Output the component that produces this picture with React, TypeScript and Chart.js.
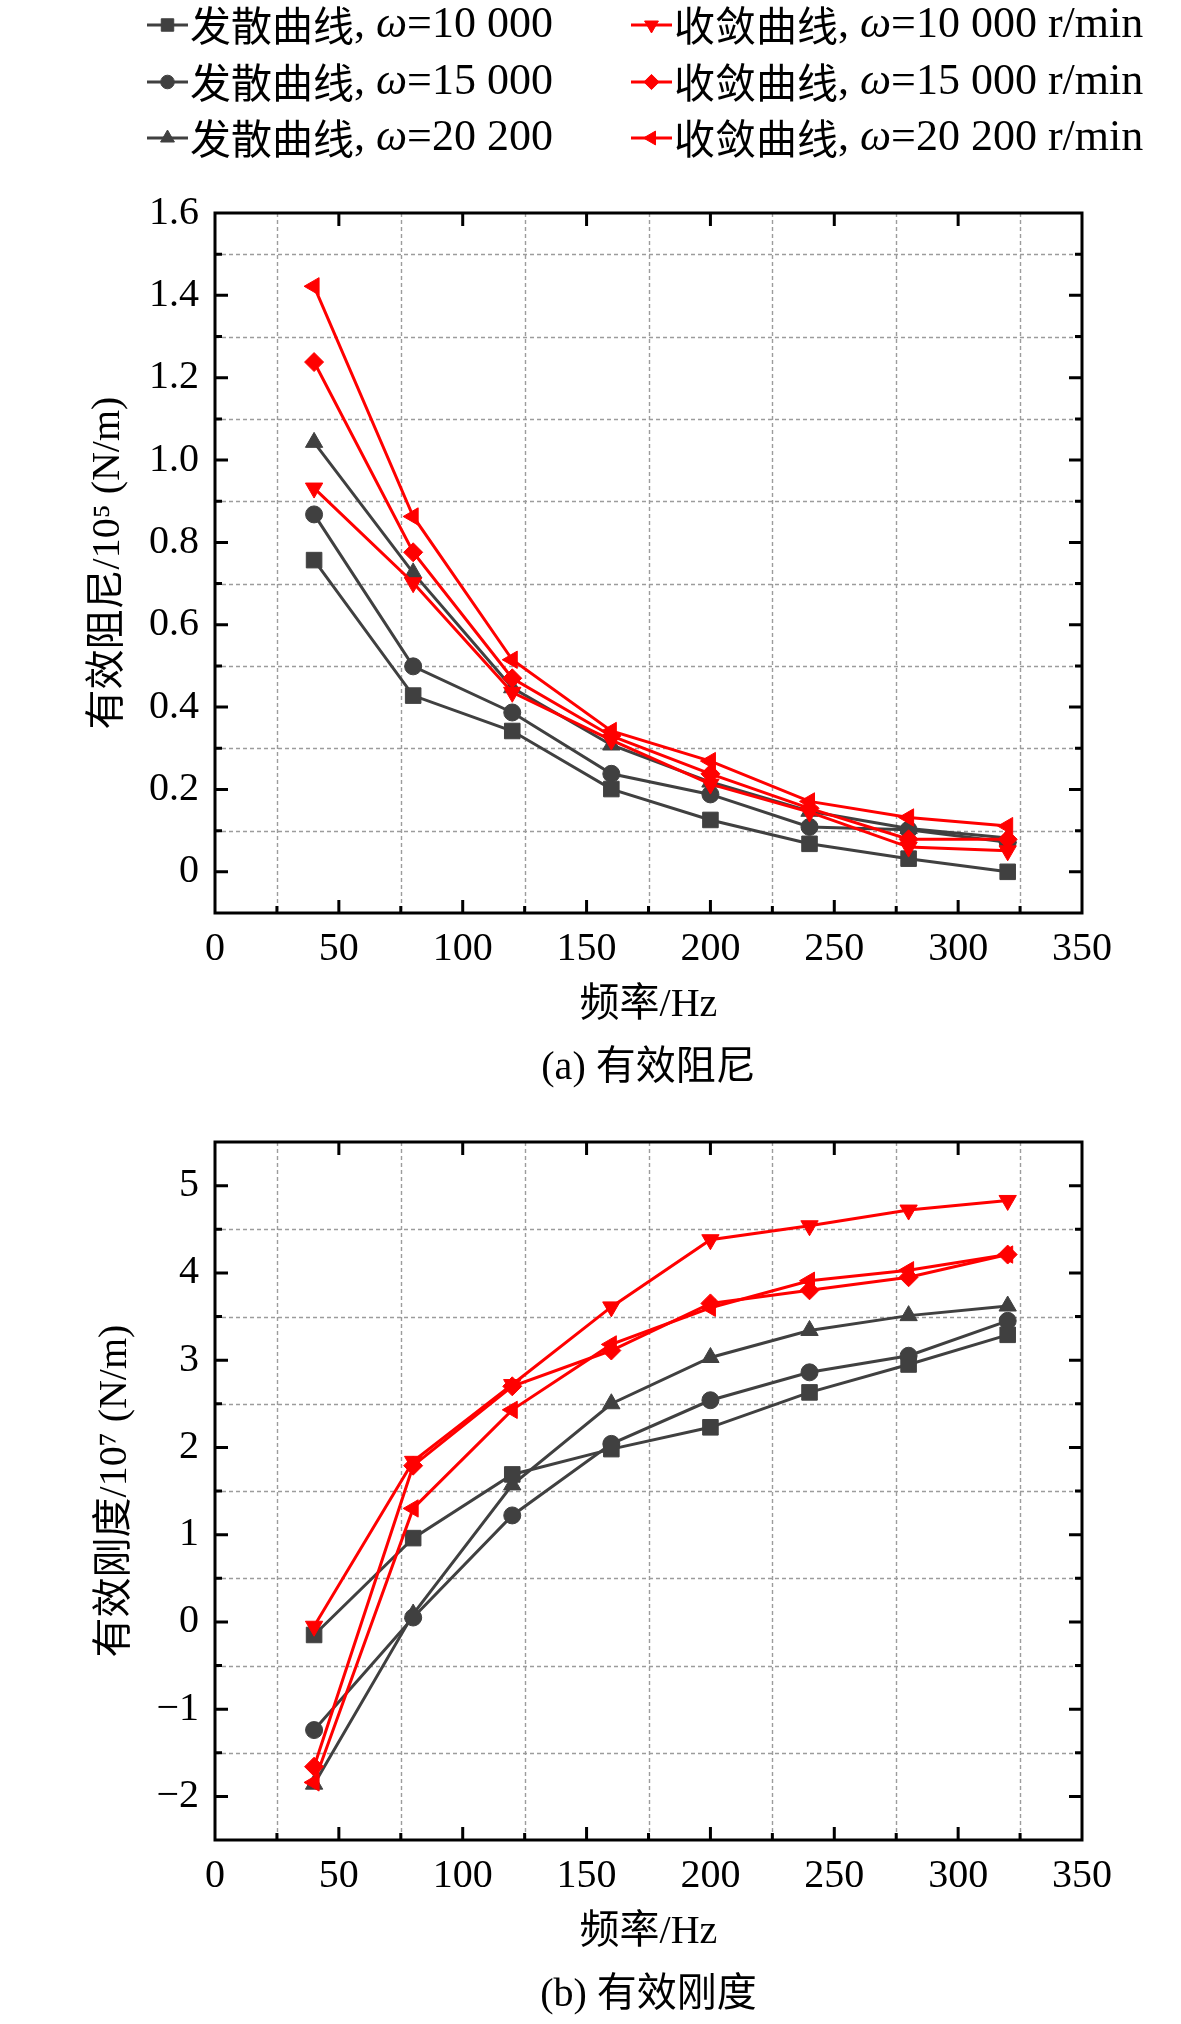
import React, { useEffect, useRef } from 'react';
import { Chart, registerables } from 'chart.js';
import { drawPoint } from 'chart.js/helpers';

Chart.register(...registerables);

if (typeof document !== 'undefined') {
  document.body.style.margin = '0';
  document.body.style.background = '#ffffff';
}

// ---------------- data ----------------
const FREQ = [40, 80, 120, 160, 200, 240, 280, 320];

const SERIES_LABELS = [
  '发散曲线, ω=10 000',
  '发散曲线, ω=15 000',
  '发散曲线, ω=20 200',
  '收敛曲线, ω=10 000 r/min',
  '收敛曲线, ω=15 000 r/min',
  '收敛曲线, ω=20 200 r/min',
];

// (a) effective damping, 10^5 N/m
const DAMP_D10 = [0.757, 0.428, 0.342, 0.201, 0.126, 0.068, 0.032, 0.0];
const DAMP_D15 = [0.868, 0.499, 0.387, 0.238, 0.188, 0.109, 0.102, 0.072];
const DAMP_D20 = [1.043, 0.726, 0.447, 0.308, 0.218, 0.147, 0.105, 0.082];
const DAMP_C10 = [0.932, 0.702, 0.436, 0.32, 0.213, 0.145, 0.06, 0.051];
const DAMP_C15 = [1.238, 0.776, 0.47, 0.33, 0.238, 0.154, 0.079, 0.079];
const DAMP_C20 = [1.422, 0.863, 0.515, 0.342, 0.269, 0.171, 0.132, 0.111];

// (b) effective stiffness, 10^7 N/m
const STIFF_D10 = [-0.15, 0.96, 1.69, 1.98, 2.23, 2.63, 2.95, 3.29];
const STIFF_D15 = [-1.24, 0.05, 1.22, 2.04, 2.54, 2.86, 3.05, 3.45];
const STIFF_D20 = [-1.86, 0.09, 1.57, 2.5, 3.03, 3.34, 3.51, 3.62];
const STIFF_C10 = [-0.05, 1.84, 2.72, 3.61, 4.38, 4.54, 4.72, 4.83];
const STIFF_C15 = [-1.66, 1.79, 2.7, 3.11, 3.65, 3.8, 3.95, 4.21];
const STIFF_C20 = [-1.84, 1.3, 2.43, 3.18, 3.6, 3.91, 4.03, 4.21];

// tick positions (major ticks get labels, minor ticks carry the dashed grid)
const X_TICKS = [0, 25, 50, 75, 100, 125, 150, 175, 200, 225, 250, 275, 300, 325, 350];
const Y_TICKS_A = [-0.1, 0, 0.1, 0.2, 0.3, 0.4, 0.5, 0.6, 0.7, 0.8, 0.9, 1.0, 1.1, 1.2, 1.3, 1.4, 1.5, 1.6];
const Y_TICKS_B = [-2.5, -2, -1.5, -1, -0.5, 0, 0.5, 1, 1.5, 2, 2.5, 3, 3.5, 4, 4.5, 5, 5.5];

const X_TITLE = '频率/Hz';
const Y_TITLE_A = '有效阻尼/10⁵ (N/m)';
const Y_TITLE_B = '有效刚度/10⁷ (N/m)';
const CAPTION_A = '(a) 有效阻尼';
const CAPTION_B = '(b) 有效刚度';

// ---------------- styles ----------------
const GRAY = '#404040';
const RED = '#ff0000';
const GRID = '#9c9c9c';
const FAMILY = '"Liberation Serif", "Noto Sans CJK SC", serif';
const CJK_FAMILY = '"Noto Sans CJK SC", "Liberation Serif", serif';

const STYLES = [
  { color: GRAY, pointStyle: 'rect', radius: 11, rotation: 0, order: 1 },
  { color: GRAY, pointStyle: 'circle', radius: 8.5, rotation: 0, order: 1 },
  { color: GRAY, pointStyle: 'triangle', radius: 10, rotation: 0, order: 1 },
  { color: RED, pointStyle: 'triangle', radius: 10, rotation: 180, order: 0 },
  { color: RED, pointStyle: 'rectRot', radius: 9.5, rotation: 0, order: 0 },
  { color: RED, pointStyle: 'triangle', radius: 10, rotation: 270, order: 0 },
];

const LEGEND_LAYOUT = { colX: [147, 631], rowY: [25, 82, 138], lineLen: 41 };

Chart.defaults.font.family = FAMILY;
Chart.defaults.color = '#000000';

function makeDatasets(series: number[][]) {
  return series.map((vals, i) => {
    const s = STYLES[i];
    return {
      label: SERIES_LABELS[i],
      data: FREQ.map((f, j) => ({ x: f, y: vals[j] })),
      borderColor: s.color,
      backgroundColor: s.color,
      pointBackgroundColor: s.color,
      pointBorderColor: s.color,
      pointBorderWidth: 1,
      pointStyle: s.pointStyle,
      pointRadius: s.radius,
      pointHoverRadius: s.radius,
      pointRotation: s.rotation,
      borderWidth: 3,
      tension: 0,
      fill: false,
      order: s.order,
    };
  });
}

// Origin-style frame: dashed grid on minor ticks, inward ticks on all sides
const framePlugin = {
  id: 'originFrame',
  beforeDatasetsDraw(chart: any) {
    const { ctx, chartArea: a, scales } = chart;
    const xs = scales.x, ys = scales.y;
    ctx.save();
    ctx.strokeStyle = GRID;
    ctx.lineWidth = 1.4;
    ctx.setLineDash([4, 3]);
    xs.ticks.forEach((t: any) => {
      if (t.label) return;
      const px = Math.round(xs.getPixelForValue(t.value)) + 0.5;
      if (px <= a.left + 2 || px >= a.right - 2) return;
      ctx.beginPath();
      ctx.moveTo(px, a.top);
      ctx.lineTo(px, a.bottom);
      ctx.stroke();
    });
    ys.ticks.forEach((t: any) => {
      if (t.label) return;
      const py = Math.round(ys.getPixelForValue(t.value)) + 0.5;
      if (py <= a.top + 2 || py >= a.bottom - 2) return;
      ctx.beginPath();
      ctx.moveTo(a.left, py);
      ctx.lineTo(a.right, py);
      ctx.stroke();
    });
    ctx.restore();
  },
  afterDatasetsDraw(chart: any) {
    const { ctx, chartArea: a, scales } = chart;
    const xs = scales.x, ys = scales.y;
    ctx.save();
    ctx.setLineDash([]);
    ctx.strokeStyle = '#000000';
    ctx.lineWidth = 3;
    ctx.beginPath();
    xs.ticks.forEach((t: any) => {
      const px = xs.getPixelForValue(t.value);
      if (px <= a.left + 2 || px >= a.right - 2) return;
      const len = t.label ? 13 : 7;
      ctx.moveTo(px, a.bottom);
      ctx.lineTo(px, a.bottom - len);
      if (t.label) {
        ctx.moveTo(px, a.top);
        ctx.lineTo(px, a.top + len);
      }
    });
    ys.ticks.forEach((t: any) => {
      const py = ys.getPixelForValue(t.value);
      if (py <= a.top + 2 || py >= a.bottom - 2) return;
      const len = t.label ? 13 : 7;
      ctx.moveTo(a.left, py);
      ctx.lineTo(a.left + len, py);
      ctx.moveTo(a.right, py);
      ctx.lineTo(a.right - len, py);
    });
    ctx.stroke();
    ctx.strokeRect(a.left, a.top, a.right - a.left, a.bottom - a.top);
    ctx.restore();
  },
};

function isCJK(ch: string) {
  return /[\u3000-\u9fff\uff00-\uffef]/.test(ch);
}

const legendPlugin = {
  id: 'twoColumnLegend',
  afterDraw(chart: any) {
    const ctx = chart.ctx;
    const { colX, rowY, lineLen } = LEGEND_LAYOUT;
    chart.data.datasets.forEach((ds: any, i: number) => {
      const col = Math.floor(i / 3);
      const row = i % 3;
      const x0 = colX[col];
      const y = rowY[row];
      ctx.save();
      ctx.strokeStyle = ds.borderColor;
      ctx.lineWidth = 3;
      ctx.beginPath();
      ctx.moveTo(x0, y);
      ctx.lineTo(x0 + lineLen, y);
      ctx.stroke();
      ctx.fillStyle = ds.pointBackgroundColor;
      ctx.strokeStyle = ds.pointBorderColor;
      ctx.lineWidth = 1;
      drawPoint(
        ctx,
        { pointStyle: ds.pointStyle, radius: ds.pointRadius * 0.8, rotation: ds.pointRotation, borderWidth: 1 } as any,
        x0 + lineLen / 2,
        y
      );
      // text, split into runs (CJK / italic omega / latin)
      ctx.fillStyle = '#000000';
      ctx.textBaseline = 'middle';
      ctx.textAlign = 'left';
      let tx = x0 + lineLen + 2;
      const text: string = ds.label;
      let run = '';
      let runType = '';
      const flush = () => {
        if (!run) return;
        if (runType === 'cjk') ctx.font = `41px ${CJK_FAMILY}`;
        else if (runType === 'omega') ctx.font = `italic 44px ${FAMILY}`;
        else ctx.font = `44px ${FAMILY}`;
        ctx.fillText(run, tx, y);
        tx += ctx.measureText(run).width;
        run = '';
      };
      for (const ch of text) {
        const type = isCJK(ch) ? 'cjk' : ch === 'ω' ? 'omega' : 'latin';
        if (type !== runType) {
          flush();
          runType = type;
        }
        run += ch;
      }
      flush();
      ctx.restore();
    });
  },
};

const FONT40 = { family: FAMILY, size: 40 };

function makeConfig(opts: {
  series: number[][];
  yMin: number;
  yMax: number;
  yTicks: number[];
  yLabel: (v: number) => string;
  yTitle: string;
  yTitlePad: number;
  caption: string;
  padTop: number;
  padBottom: number;
  legend: boolean;
}): any {
  return {
    type: 'line',
    data: { datasets: makeDatasets(opts.series) },
    plugins: opts.legend ? [framePlugin, legendPlugin] : [framePlugin],
    options: {
      responsive: false,
      animation: false,
      devicePixelRatio: 1,
      layout: { padding: { top: opts.padTop, right: 99, bottom: opts.padBottom, left: 0 } },
      plugins: {
        legend: { display: false },
        tooltip: { enabled: false },
        title: {
          display: true,
          text: opts.caption,
          position: 'bottom',
          fullSize: false,
          color: '#000000',
          font: { ...FONT40, weight: 'normal' },
          padding: { top: 0, bottom: 0 },
        },
      },
      scales: {
        x: {
          type: 'linear',
          min: 0,
          max: 350,
          afterBuildTicks: (s: any) => {
            s.ticks = X_TICKS.map((v) => ({ value: v }));
          },
          afterFit: (s: any) => {
            s.height = 131;
          },
          grid: { display: false, drawTicks: false },
          border: { display: false },
          ticks: {
            autoSkip: false,
            maxRotation: 0,
            minRotation: 0,
            padding: 12,
            color: '#000000',
            font: FONT40,
            callback: (v: number) => (Math.round(v) % 50 === 0 ? String(Math.round(v)) : ''),
          },
          title: {
            display: true,
            text: X_TITLE,
            color: '#000000',
            font: FONT40,
            padding: { top: 0, bottom: 15 },
          },
        },
        y: {
          type: 'linear',
          min: opts.yMin,
          max: opts.yMax,
          afterBuildTicks: (s: any) => {
            s.ticks = opts.yTicks.map((v) => ({ value: v }));
          },
          afterFit: (s: any) => {
            s.width = 215;
          },
          grid: { display: false, drawTicks: false },
          border: { display: false },
          ticks: {
            autoSkip: false,
            padding: 16,
            color: '#000000',
            font: FONT40,
            callback: (v: number) => opts.yLabel(v),
          },
          title: {
            display: true,
            text: opts.yTitle,
            color: '#000000',
            font: FONT40,
            padding: { top: opts.yTitlePad, bottom: 0 },
          },
        },
      },
    },
  };
}

const labelA = (v: number) => {
  const k = Math.round(v * 10);
  if (k % 2 !== 0) return '';
  return k === 0 ? '0' : (k / 10).toFixed(1);
};

const labelB = (v: number) => {
  const k = Math.round(v * 2);
  if (k % 2 !== 0) return '';
  const n = k / 2;
  return n < 0 ? '\u2212' + Math.abs(n) : String(n);
};

function ChartCanvas({ makeCfg, width, height }: { makeCfg: () => any; width: number; height: number }) {
  const ref = useRef<HTMLCanvasElement>(null);
  useEffect(() => {
    if (!ref.current) return;
    const chart = new Chart(ref.current, makeCfg());
    return () => chart.destroy();
  }, []);
  return <canvas ref={ref} width={width} height={height} style={{ display: 'block', width, height }} />;
}

export default function App() {
  return (
    <div style={{ width: 1181, height: 2024, background: '#ffffff' }}>
      <ChartCanvas
        width={1181}
        height={1100}
        makeCfg={() =>
          makeConfig({
            series: [DAMP_D10, DAMP_D15, DAMP_D20, DAMP_C10, DAMP_C15, DAMP_C20],
            yMin: -0.1,
            yMax: 1.6,
            yTicks: Y_TICKS_A,
            yLabel: labelA,
            yTitle: Y_TITLE_A,
            yTitlePad: 84,
            caption: CAPTION_A,
            padTop: 213,
            padBottom: 8,
            legend: true,
          })
        }
      />
      <ChartCanvas
        width={1181}
        height={924}
        makeCfg={() =>
          makeConfig({
            series: [STIFF_D10, STIFF_D15, STIFF_D20, STIFF_C10, STIFF_C15, STIFF_C20],
            yMin: -2.5,
            yMax: 5.5,
            yTicks: Y_TICKS_B,
            yLabel: labelB,
            yTitle: Y_TITLE_B,
            yTitlePad: 91,
            caption: CAPTION_B,
            padTop: 42,
            padBottom: 5,
            legend: false,
          })
        }
      />
    </div>
  );
}
